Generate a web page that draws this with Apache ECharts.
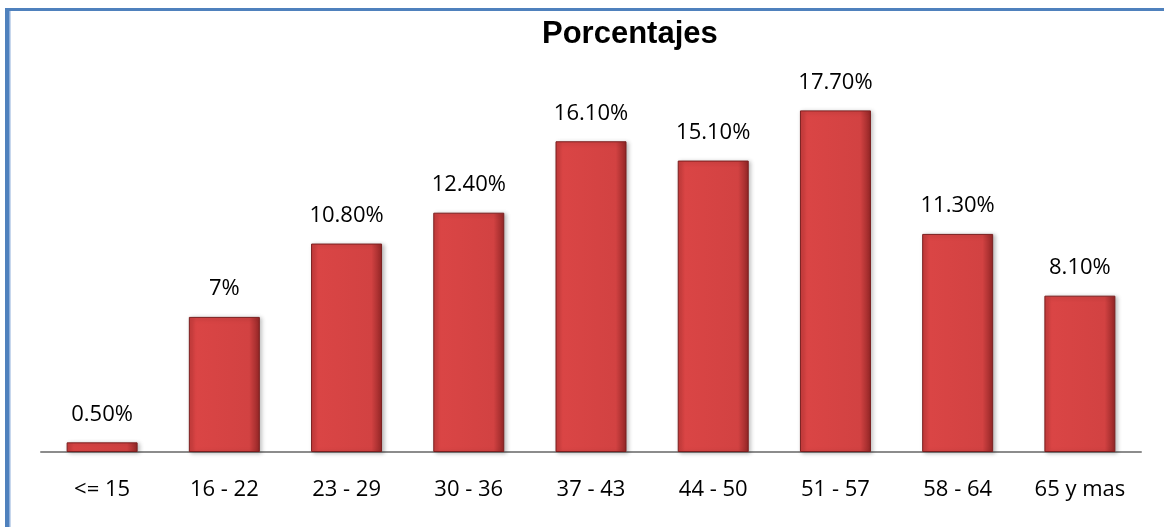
<!DOCTYPE html>
<html><head><meta charset="utf-8">
<script src="https://cdn.jsdelivr.net/npm/echarts@6/dist/echarts.min.js"></script>
<style>html,body{margin:0;padding:0;background:#fff}#c{width:1164px;height:527px}</style>
</head><body><div id="c"></div>
<script>
const categories = ['<= 15','16 - 22','23 - 29','30 - 36','37 - 43','44 - 50','51 - 57','58 - 64','65 y mas'];
const values = [0.5, 7, 10.8, 12.4, 16.1, 15.1, 17.7, 11.3, 8.1];
const labels = ['0.50%','7%','10.80%','12.40%','16.10%','15.10%','17.70%','11.30%','8.10%'];
const titleText = 'Porcentajes';

const chart = echarts.init(document.getElementById('c'), null, {renderer:'canvas'});
const font = '"Open Sans", "Liberation Sans", sans-serif';
chart.setOption({
  animation:false,
  backgroundColor:'#fff',
  title:{text:titleText,left:537,top:14,textStyle:{fontFamily:'"Liberation Sans", Arial, sans-serif',fontWeight:'bold',fontSize:31,color:'#000'}},
  grid:{left:41,right:23,top:66,bottom:75,containLabel:false},
  xAxis:{type:'category',data:categories,
    axisLine:{lineStyle:{color:'#8c8c8c',width:2}},
    axisTick:{show:false},
    axisLabel:{fontFamily:font,fontSize:22,color:'#000',margin:27}},
  yAxis:{type:'value',min:0,max:20,show:false,splitLine:{show:false}},
  series:[{type:'bar',barWidth:71,
    data:values.map((v,i)=>({value:v,label:{formatter:labels[i]}})),
    itemStyle:{
      color:new echarts.graphic.LinearGradient(0,0,1,0,[
        {offset:0,color:'#c63b3b'},{offset:0.1,color:'#da4545'},
        {offset:0.85,color:'#d24242'},{offset:1,color:'#922626'}]),
      borderColor:'#7a1f1f',borderWidth:1,
      shadowColor:'rgba(0,0,0,0.25)',shadowBlur:4,shadowOffsetX:2,shadowOffsetY:1},
    label:{show:true,position:'top',distance:17,fontFamily:font,fontSize:22,color:'#000'}
  }],
  graphic:[
    {type:'rect',shape:{x:5,y:8,width:1160,height:3},style:{fill:'#4f81bd'},z:10},
    {type:'rect',shape:{x:5,y:8,width:5,height:530},style:{fill:'#4f81bd'},z:10},
    {type:'rect',shape:{x:9,y:11,width:1.5,height:530},style:{fill:'#8fb0dc'},z:10}
  ]
});
</script></body></html>
